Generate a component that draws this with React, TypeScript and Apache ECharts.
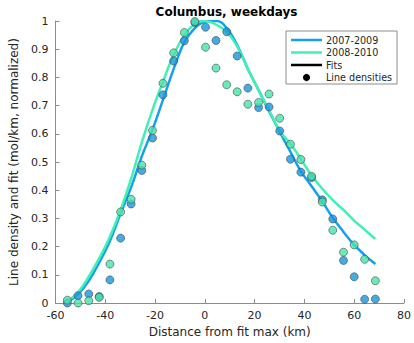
import React, { useEffect, useRef } from "react";
import * as echarts from "echarts";

const xPts = [-55.2, -50.9, -46.6, -42.4, -38.1, -33.8, -29.6, -25.3, -21.0, -16.8, -12.5, -8.2, -4.0, 0.3, 4.5, 8.8, 13.0, 17.3, 21.6, 25.8, 30.1, 34.4, 38.6, 42.9, 47.2, 51.4, 55.7, 60.0, 64.2, 68.5];
const blueDensity = [0.0, 0.026, 0.032, 0.023, 0.082, 0.23, 0.351, 0.47, 0.585, 0.738, 0.858, 0.93, 0.995, 0.978, 0.931, 0.962, 0.876, 0.762, 0.693, 0.695, 0.61, 0.51, 0.464, 0.445, 0.366, 0.298, 0.151, 0.093, 0.013, 0.014];
const greenDensity = [0.01, 0.0, 0.008, 0.02, 0.138, 0.323, 0.368, 0.489, 0.612, 0.779, 0.887, 0.959, 0.998, 0.907, 0.833, 0.774, 0.749, 0.705, 0.711, 0.741, 0.655, 0.563, 0.509, 0.449, 0.358, 0.258, 0.18, 0.206, 0.155, 0.079];

const fitX = [-55.0, -50.7, -46.5, -42.3, -38.1, -33.8, -29.6, -25.3, -21.0, -16.8, -12.5, -8.2, -4.0, -1.0, 2.0, 5.0, 8.8, 13.0, 17.3, 21.6, 25.8, 30.1, 34.4, 38.6, 42.9, 47.2, 51.4, 55.7, 60.0, 64.2, 68.5];
const blueFit = [0.003, 0.033, 0.08, 0.145, 0.22, 0.318, 0.41, 0.52, 0.615, 0.72, 0.83, 0.925, 0.975, 0.994, 1.0, 1.0, 0.975, 0.915, 0.83, 0.755, 0.68, 0.607, 0.536, 0.467, 0.414, 0.36, 0.302, 0.252, 0.206, 0.17, 0.138];
const greenFit = [0.008, 0.04, 0.095, 0.16, 0.235, 0.33, 0.44, 0.57, 0.685, 0.785, 0.88, 0.95, 0.99, 1.0, 0.997, 0.985, 0.962, 0.91, 0.83, 0.755, 0.684, 0.61, 0.565, 0.51, 0.452, 0.405, 0.365, 0.33, 0.292, 0.26, 0.227];

const xTicks = { min: -60, max: 80, interval: 20 };
const yTicks = { min: 0, max: 1, interval: 0.1 };

const titleText = "Columbus, weekdays";
const xName = "Distance from fit max (km)";
const yName = "Line density and fit (mol/km, normalized)";
const legendLabels = ["2007-2009", "2008-2010", "Fits", "Line densities"];

const BLUE_LINE = "#14a0ee";
const GREEN_LINE = "#40f0b4";
const BLUE_DOT = "#1496e0";
const GREEN_DOT = "#44e6a8";
const TEXT = "#262626";
const FONT = "DejaVu Sans";

export default function App() {
  const ref = useRef<HTMLDivElement>(null);
  useEffect(() => {
    if (!ref.current) return;
    const chart = echarts.init(ref.current, null, { renderer: "svg" });
    const pair = (xs: number[], ys: number[]) => xs.map((x, i) => [x, ys[i]]);
    const lx = 286, ly = 31;
    const rowY = [40, 52.5, 65, 77.5];
    const legendGraphics: any[] = [
      { type: "rect", shape: { x: lx, y: ly, width: 111, height: 53 }, style: { fill: "#fff", stroke: "#8c8c8c", lineWidth: 1 }, z: 10 },
      { type: "line", shape: { x1: 291, y1: rowY[0], x2: 322, y2: rowY[0] }, style: { stroke: BLUE_LINE, lineWidth: 2.5 }, z: 11 },
      { type: "line", shape: { x1: 291, y1: rowY[1], x2: 322, y2: rowY[1] }, style: { stroke: GREEN_LINE, lineWidth: 2.5 }, z: 11 },
      { type: "line", shape: { x1: 291, y1: rowY[2], x2: 322, y2: rowY[2] }, style: { stroke: "#000", lineWidth: 2.5 }, z: 11 },
      { type: "circle", shape: { cx: 306.5, cy: rowY[3], r: 3.6 }, style: { fill: "#000" }, z: 11 },
      {
        type: "text", x: 226.5, y: 12, z: 11,
        style: { text: titleText, fill: "#000", font: `bold 12px ${FONT}`, textAlign: "center", textVerticalAlign: "middle", verticalAlign: "middle" },
      },
    ];
    legendLabels.forEach((t, i) => {
      legendGraphics.push({
        type: "text", x: 326, y: rowY[i], z: 11,
        style: { text: t, fill: TEXT, font: `9.6px ${FONT}`, textVerticalAlign: "middle", verticalAlign: "middle" },
      });
    });
    chart.setOption({
      animation: false,
      backgroundColor: "#fff",
      grid: { left: 48, right: 9, top: 21, bottom: 40, containLabel: false },
      xAxis: {
        type: "value", min: xTicks.min, max: xTicks.max, interval: xTicks.interval,
        name: xName, nameLocation: "middle", nameGap: 18,
        nameTextStyle: { fontFamily: FONT, fontSize: 12, color: TEXT },
        axisLine: { show: true, onZero: false, lineStyle: { color: "#8c8c8c", width: 1 } },
        axisTick: { show: true, inside: true, length: 4, lineStyle: { color: "#8c8c8c" } },
        axisLabel: { fontFamily: FONT, fontSize: 11, color: TEXT, margin: 7 },
        splitLine: { show: false },
      },
      yAxis: {
        type: "value", min: yTicks.min, max: yTicks.max, interval: yTicks.interval,
        name: yName, nameLocation: "middle", nameGap: 28,
        nameTextStyle: { fontFamily: FONT, fontSize: 12, color: TEXT },
        axisLine: { show: true, onZero: false, lineStyle: { color: "#8c8c8c", width: 1 } },
        axisTick: { show: true, inside: true, length: 4, lineStyle: { color: "#8c8c8c" } },
        axisLabel: {
          fontFamily: FONT, fontSize: 11, color: TEXT, margin: 7,
          formatter: (v: number) => (Math.abs(v) < 1e-9 ? "0" : Math.abs(v - 1) < 1e-9 ? "1" : v.toFixed(1)),
        },
        splitLine: { show: false },
      },
      graphic: legendGraphics,
      series: [
        { type: "line", name: "2007-2009 fit", data: pair(fitX, blueFit), smooth: 0.4, showSymbol: false, symbol: "none", lineStyle: { color: BLUE_LINE, width: 2.5 }, z: 2 },
        { type: "line", name: "2008-2010 fit", data: pair(fitX, greenFit), smooth: 0.4, showSymbol: false, symbol: "none", lineStyle: { color: GREEN_LINE, width: 2.5 }, z: 2 },
        { type: "scatter", name: "2007-2009", data: pair(xPts, blueDensity), symbolSize: 8, itemStyle: { color: BLUE_DOT, borderColor: "#4d4d4d", borderWidth: 0.8 }, z: 3 },
        { type: "scatter", name: "2008-2010", data: pair(xPts, greenDensity), symbolSize: 8, itemStyle: { color: GREEN_DOT, borderColor: "#4d4d4d", borderWidth: 0.8 }, z: 4 },
      ],
    });
    return () => chart.dispose();
  }, []);
  return <div ref={ref} style={{ width: 414, height: 343, position: "absolute", left: 0, top: 0 }} />;
}
